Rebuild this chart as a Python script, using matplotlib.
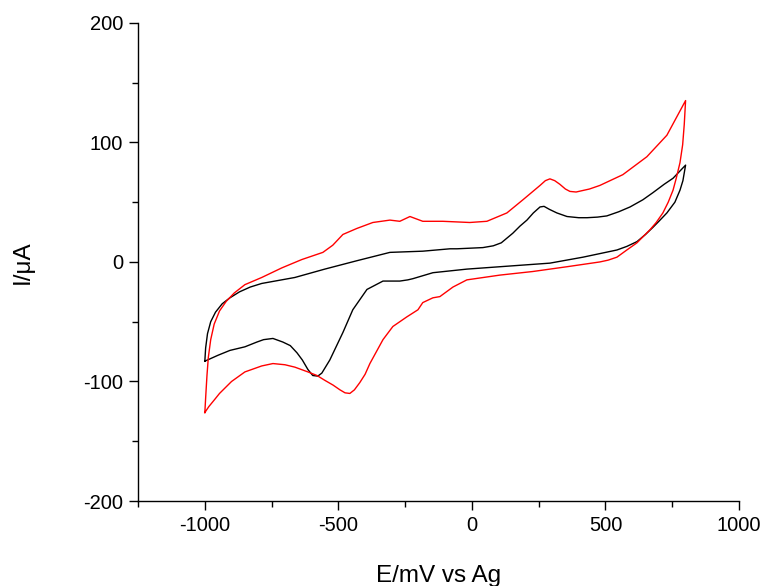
import matplotlib
matplotlib.use('Agg')
import matplotlib.pyplot as plt
from matplotlib.ticker import MultipleLocator

plt.rcParams['font.family'] = ['Liberation Sans', 'DejaVu Sans']
plt.rcParams['axes.unicode_minus'] = False

# Schwarze Kurve (E in mV, I in uA), Hin- und Rueckscan
black_E = [-1000, -997, -990, -978, -960, -935, -906, -870, -830, -787, -663, -551, -431, -307,
           -184, -82, -56, 41, 80, 110, 153, 180, 206, 230, 255, 270, 290, 318, 356, 400,
           431, 470, 505, 550, 592, 640, 678, 720, 753, 800,
           790, 779, 760, 730, 700, 678, 650, 618, 580, 543, 416, 292, 105, -19, -146, -221,
           -240, -270, -333, -393, -446, -483, -532, -562, -577, -596, -614, -635, -655, -680,
           -708, -745, -780, -805, -850, -906, -950, -1000]
black_I = [-83, -72, -60, -50, -42, -35, -30, -25, -21, -18, -13, -6, 1, 8,
           9, 11, 11, 12, 13.5, 16, 24, 30, 35, 41, 46, 46.5, 44, 41, 38, 37,
           37, 37.5, 38.5, 42, 46, 52, 58, 65, 70, 81,
           68, 60, 50, 41, 34, 29, 23, 17, 13, 10, 4, -1, -4, -6, -9, -14,
           -15, -16, -16, -23, -40, -59, -82, -93, -95.5, -95, -90, -82, -76, -70,
           -67, -64, -65, -67, -71, -74, -78, -83]

# Rote Kurve
red_E = [-1000, -996, -992, -987, -978, -965, -945, -920, -890, -850, -787, -712, -637, -558,
         -521, -483, -431, -371, -307, -270, -232, -184, -109, -8, 56, 131, 191, 255, 275,
         292, 310, 329, 350, 367, 390, 410, 440, 479, 565, 655, 730, 800,
         795, 789, 779, 765, 753, 735, 715, 690, 667, 640, 618, 580, 543, 510, 479, 356,
         228, 105, -19, -71, -120, -146, -184, -202, -244, -296, -333, -382, -400, -420,
         -440, -457, -475, -494, -520, -551, -580, -614, -663, -700, -745, -787, -850, -900,
         -945, -963, -985, -1000]
red_I = [-126, -110, -95, -80, -65, -52, -41, -33, -26, -19, -13, -5, 2, 8,
         14, 23, 28, 33, 35, 34, 38, 34, 34, 33, 34, 41, 52, 64, 68,
         69.5, 68, 65, 61, 59, 58.5, 59.5, 61, 64, 73, 88, 106, 135,
         115, 98, 83, 70, 60, 50, 41, 33, 27, 21, 16, 10, 4, 1.5, 0, -4,
         -8, -11, -15, -21, -29, -30, -34, -40, -46, -54, -65, -85, -94, -101,
         -107, -110, -109.5, -107, -103, -99, -95, -92, -88, -86, -85, -87, -92, -100,
         -110, -115, -121, -126]

fig = plt.figure(figsize=(7.67, 5.86), dpi=100)
ax = fig.add_axes([0.180, 0.145, 0.7835, 0.816])

ax.plot(black_E, black_I, color='black', lw=1.0)
ax.plot(red_E, red_I, color='red', lw=1.0)

ax.set_xlim(-1250, 1000)
ax.set_ylim(-200, 200)
ax.xaxis.set_major_locator(MultipleLocator(500))
ax.xaxis.set_minor_locator(MultipleLocator(250))
ax.yaxis.set_major_locator(MultipleLocator(100))
ax.yaxis.set_minor_locator(MultipleLocator(50))

ax.spines['top'].set_visible(False)
ax.spines['right'].set_visible(False)
ax.spines['left'].set_linewidth(1.0)
ax.spines['bottom'].set_linewidth(1.0)

ax.tick_params(which='major', direction='out', length=6.3, width=1.0, labelsize=14.5, pad=4.3)
ax.tick_params(which='minor', direction='out', length=4.5, width=1.0)

ax.set_xlabel('E/mV vs Ag', fontsize=17.5, labelpad=22)
ax.set_ylabel('I/\u03bcA', fontsize=17.5, labelpad=36)

fig.savefig('out.png', dpi=100)
